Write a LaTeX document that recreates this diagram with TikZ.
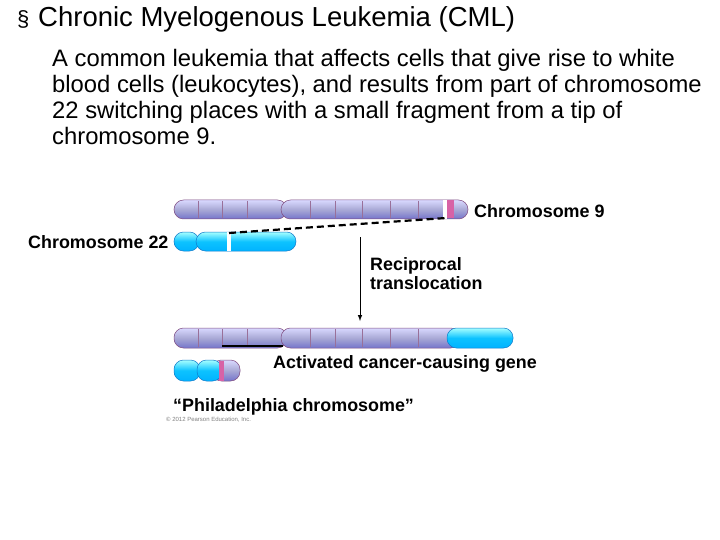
\documentclass[tikz,border=0pt]{standalone}
\usepackage{fontspec}
\setmainfont{Liberation Sans}
\begin{document}
\begin{tikzpicture}[x=1pt,y=-1pt,
  body/.style={font=\fontsize{23.8}{28}\selectfont, anchor=base west, inner sep=0},
  lab/.style={font=\bfseries\fontsize{17.9}{20}\selectfont, anchor=base west, inner sep=0},
  arm9/.style={rounded corners=9.5pt, draw=violet!40!gray, line width=0.5pt, top color=blue!15!white, bottom color=blue!45!gray!75, middle color=blue!35!gray!50!white},
  arm22/.style={rounded corners=9.5pt, draw=cyan!60!blue, line width=0.5pt, top color=cyan!35!white, bottom color=cyan!70!blue, middle color=cyan!75!blue!95},
  band/.style={draw=violet!40!gray!80, line width=0.5pt}]
\useasboundingbox (0,0) rectangle (720,540);
% text
\node[anchor=base west,inner sep=0,font=\fontsize{22}{24}\selectfont] (bul) at (17,27) {§};
\node[body,font=\fontsize{27.5}{30}\selectfont] (title) at (38,27) {Chronic Myelogenous Leukemia (CML)};
\node[body] (l1) at (52,67) {A common leukemia that affects cells that give rise to white};
\node[body] (l2) at (52,93) {blood cells (leukocytes), and results from part of chromosome};
\node[body] (l3) at (52,119) {22 switching places with a small fragment from a tip of};
\node[body] (l4) at (52,145) {chromosome 9.};
% chromosome 9
\path[arm9] (174,200) rectangle (287,219);
\path[arm9] (281,200) rectangle (468,219);
\foreach \x in {198,222,247,310,335,362,390,418} \draw[band] (\x,201) -- (\x,218);
\fill[white] (443,200) rectangle (447,219);
\fill[magenta!60!violet!70] (447,200.5) rectangle (454,218.5);
% chromosome 22
\path[arm22] (174,232) rectangle (199,251);
\path[arm22] (196,232) rectangle (296,251);
\fill[white] (227,232) rectangle (231,251);
\draw[dash pattern=on 7pt off 4pt, line width=2.2pt] (229,233) -- (446,218);
% arrow
\coordinate (a1) at (360,237);
\coordinate (a2) at (360,321);
\draw[-latex, line width=1pt] (a1) -- (a2);
% result chromosome
\path[arm9] (174,328) rectangle (287,348);
\path[arm9] (281,328) rectangle (460,348);
\path[arm22] (447,328) rectangle (513,348);
\foreach \x in {198,222,247,310,335,362,390,418} \draw[band] (\x,329) -- (\x,347);
\draw[line width=1.5pt] (222,346) -- (283,346);
% philadelphia
\path[arm22] (174,360) rectangle (200,381);
\path[arm9] (212,360) rectangle (240,381);
\path[arm22] (197,360) rectangle (222,381);
\fill[magenta!60!violet!70] (219,360.5) rectangle (224,380.5);
% labels
\node[lab] (c9) at (474,218) {Chromosome 9};
\node[lab] (c22) at (28,248) {Chromosome 22};
\node[lab] (rt) at (370,270) {Reciprocal};
\node[lab] (rt2) at (370,289) {translocation};
\node[lab] (ag) at (273,368) {Activated cancer-causing gene};
\node[lab] (ph) at (173,411) {“Philadelphia chromosome”};
\node[anchor=base west,inner sep=0,font=\fontsize{6}{7}\selectfont,text=gray] (cp) at (166,421) {© 2012 Pearson Education, Inc.};
\end{tikzpicture}
\end{document}
